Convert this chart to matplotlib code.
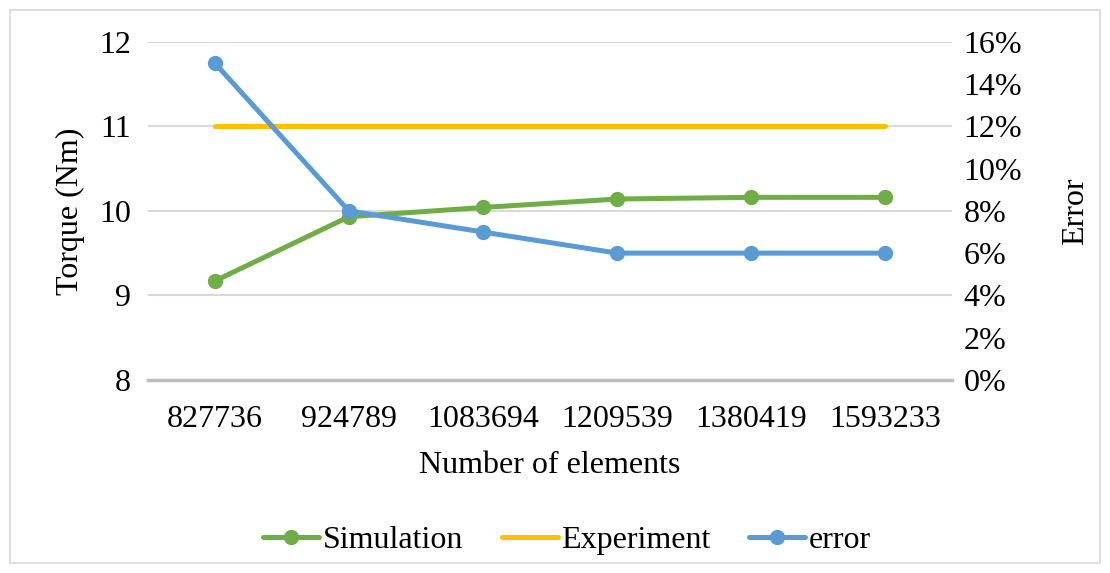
import matplotlib
matplotlib.use("Agg")
from matplotlib import pyplot as plt
from matplotlib.ticker import PercentFormatter
import matplotlib.patches as mpatches

plt.rcParams['font.family'] = ['Liberation Serif', 'DejaVu Serif']

categories = ['827736', '924789', '1083694', '1209539', '1380419', '1593233']
simulation = [9.17, 9.93, 10.04, 10.14, 10.16, 10.16]
experiment = [11, 11, 11, 11, 11, 11]
error = [15.0, 8.0, 7.0, 6.0, 6.0, 6.0]

green = '#70AD47'
yellow = '#FFC000'
blue = '#5B9BD5'
fs = 23

fig = plt.figure(figsize=(11.1, 5.73), dpi=100)
ax = fig.add_axes([0.133, 0.337, 0.725, 0.59])
ax2 = ax.twinx()

x = list(range(len(categories)))
l1, = ax.plot(x, simulation, color=green, lw=3.6, marker='o', ms=10, label='Simulation',
              solid_capstyle='round')
l2, = ax.plot(x, experiment, color=yellow, lw=3.6, label='Experiment', solid_capstyle='round')
l3, = ax2.plot(x, error, color=blue, lw=3.6, marker='o', ms=10, label='error',
               solid_capstyle='round')

ax.set_xlim(-0.5, len(categories) - 0.5)
ax.set_ylim(8, 12)
ax.set_yticks([8, 9, 10, 11, 12])
ax2.set_ylim(0, 16)
ax2.set_yticks(range(0, 17, 2))
ax2.yaxis.set_major_formatter(PercentFormatter(decimals=0))

ax.set_xticks(x)
ax.set_xticklabels(categories)
ax.grid(axis='y', color='#D9D9D9', lw=1.5)
ax.set_axisbelow(True)

for a in (ax, ax2):
    for s in a.spines.values():
        s.set_visible(False)
    a.tick_params(length=0, labelsize=fs)
ax.spines['bottom'].set_visible(True)
ax.spines['bottom'].set_color('#BFBFBF')
ax.spines['bottom'].set_linewidth(2.5)
ax.tick_params(axis='x', pad=18)
ax.tick_params(axis='y', pad=12)
ax2.tick_params(axis='y', pad=8)

ax.set_xlabel('Number of elements', fontsize=fs, labelpad=12)
ax.set_ylabel('Torque (Nm)', fontsize=fs, labelpad=10)
ax2.set_ylabel('Error', fontsize=fs, labelpad=28)

fig.legend(handles=[l1, l2, l3], loc='center', bbox_to_anchor=(0.511, 0.057), ncol=3,
           frameon=False, fontsize=fs, handlelength=1.75, handletextpad=0.12, columnspacing=1.2)

fig.patches.append(mpatches.Rectangle((0.009, 0.017), 0.982, 0.966, transform=fig.transFigure,
                                      fill=False, edgecolor='#D9D9D9', lw=1.2))

fig.savefig('out.png', dpi=100)
